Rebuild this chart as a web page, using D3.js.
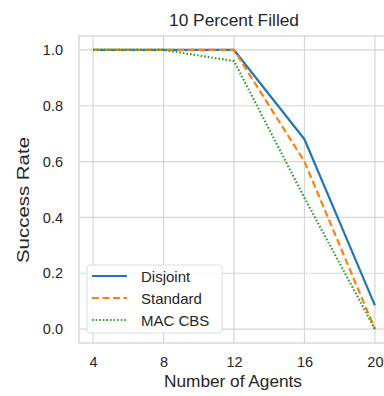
<!DOCTYPE html>
<html>
<head>
<meta charset="utf-8">
<script src="https://cdn.jsdelivr.net/npm/d3@7"></script>
<style>
  body { margin: 0; background: #fff; }
  text { font-family: "Liberation Sans", Arial, sans-serif; fill: #262626; }
</style>
</head>
<body>
<div id="chart"></div>
<script>
const agents = [4, 8, 12, 16, 20];
const disjoint = [1.0, 1.0, 1.0, 0.68, 0.085];
const standard = [1.0, 1.0, 1.0, 0.60, 0.0];
const macCbs = [1.0, 1.0, 0.96, 0.47, 0.0];
const yTicks = [0.0, 0.2, 0.4, 0.6, 0.8, 1.0];

const width = 384, height = 396;
const margin = {top: 36, right: -5, bottom: 53, left: 79};

const series = [
  {name: 'Disjoint', values: disjoint, color: '#1f77b4', dash: null},
  {name: 'Standard', values: standard, color: '#ff7f0e', dash: '7,3.5'},
  {name: 'MAC CBS', values: macCbs, color: '#2ca02c', dash: '1.6,2'}
];

const svg = d3.select('#chart').append('svg')
  .attr('width', width)
  .attr('height', height);

const x = d3.scaleLinear()
  .domain([3.2, 20.8])
  .range([margin.left, width - margin.right]);

const y = d3.scaleLinear()
  .domain([-0.05, 1.05])
  .range([height - margin.bottom, margin.top]);

// grid
svg.append('g')
  .selectAll('line')
  .data(agents)
  .join('line')
  .attr('x1', d => x(d)).attr('x2', d => x(d))
  .attr('y1', y(-0.05)).attr('y2', y(1.05))
  .attr('stroke', '#d6d6d6').attr('stroke-width', 1.2);

svg.append('g')
  .selectAll('line')
  .data(yTicks)
  .join('line')
  .attr('x1', x(3.2)).attr('x2', width)
  .attr('y1', d => y(d)).attr('y2', d => y(d))
  .attr('stroke', '#d6d6d6').attr('stroke-width', 1.2);

// frame
svg.append('rect')
  .attr('x', x(3.2)).attr('y', y(1.05))
  .attr('width', x(20.8) - x(3.2)).attr('height', y(-0.05) - y(1.05))
  .attr('fill', 'none').attr('stroke', '#d3d3d3').attr('stroke-width', 1.3);

// axes
const xAxis = g => g
  .attr('transform', `translate(0,${height - margin.bottom})`)
  .call(d3.axisBottom(x).tickValues(agents).tickSize(0).tickPadding(14))
  .call(h => h.select('.domain').remove())
  .call(h => h.selectAll('text').attr('font-size', 14.5).style('fill', '#262626'));

const yAxis = g => g
  .attr('transform', `translate(${margin.left},0)`)
  .call(d3.axisLeft(y).tickValues(yTicks).tickFormat(d3.format('.1f')).tickSize(0).tickPadding(16))
  .call(h => h.select('.domain').remove())
  .call(h => h.selectAll('text').attr('font-size', 14.5).style('fill', '#262626'));

svg.append('g').call(xAxis);
svg.append('g').call(yAxis);

// lines
const line = d3.line()
  .x((d, i) => x(agents[i]))
  .y(d => y(d));

series.forEach(s => {
  svg.append('path')
    .datum(s.values)
    .attr('fill', 'none')
    .attr('stroke', s.color)
    .attr('stroke-width', 2.2)
    .attr('stroke-dasharray', s.dash)
    .attr('stroke-linejoin', 'round')
    .attr('d', line);
});

// title and labels
svg.append('text')
  .attr('x', 234).attr('y', 25.5)
  .attr('text-anchor', 'middle')
  .attr('font-size', 16)
  .attr('textLength', 130)
  .attr('lengthAdjust', 'spacingAndGlyphs')
  .text('10 Percent Filled');

svg.append('text')
  .attr('x', 233).attr('y', 387)
  .attr('text-anchor', 'middle')
  .attr('font-size', 16.5)
  .attr('textLength', 138)
  .attr('lengthAdjust', 'spacingAndGlyphs')
  .text('Number of Agents');

svg.append('text')
  .attr('transform', 'translate(29,200) rotate(-90)')
  .attr('text-anchor', 'middle')
  .attr('font-size', 17)
  .attr('textLength', 126)
  .attr('lengthAdjust', 'spacingAndGlyphs')
  .text('Success Rate');

// legend
const legend = svg.append('g').attr('transform', 'translate(87,265)');
legend.append('rect')
  .attr('width', 135).attr('height', 68)
  .attr('rx', 3)
  .attr('fill', 'rgba(255,255,255,0.85)')
  .attr('stroke', '#dcdcdc');

series.forEach((s, i) => {
  const row = legend.append('g').attr('transform', `translate(0,${11 + i * 22})`);
  row.append('line')
    .attr('x1', 5).attr('x2', 40)
    .attr('stroke', s.color)
    .attr('stroke-width', 2.2)
    .attr('stroke-dasharray', s.dash);
  row.append('text')
    .attr('x', 54).attr('y', 5.5)
    .attr('font-size', 15)
    .text(s.name);
});
</script>
</body>
</html>
